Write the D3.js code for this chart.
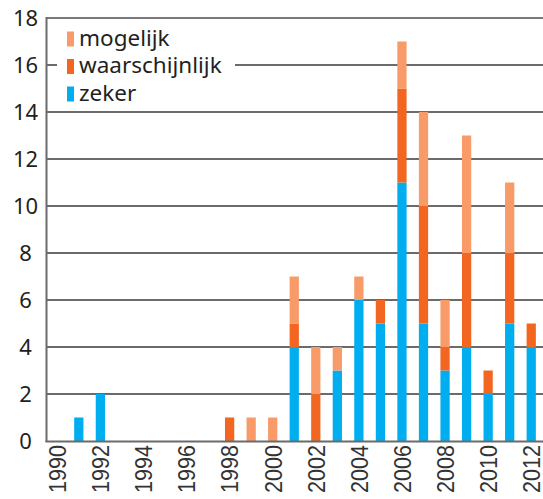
<!DOCTYPE html>
<html>
<head>
<meta charset="utf-8">
<script src="https://cdn.jsdelivr.net/npm/d3@7"></script>
<style>
  body { margin: 0; background: #fff; }
  svg text { font-family: "Noto Sans", "Open Sans", sans-serif; fill: #231f20; }
</style>
</head>
<body>
<svg id="chart" width="543" height="499"></svg>
<script>
// jaren en aantallen per categorie
var years = d3.range(1990, 2013);
var yearLabels = ["1990","1992","1994","1996","1998","2000","2002","2004","2006","2008","2010","2012"];
var zeker          = [0,1,2,0,0,0,0,0,0,0,0,4,0,3,6,5,11,5,3,4,2,5,4];
var waarschijnlijk = [0,0,0,0,0,0,0,0,1,0,0,1,2,0,0,1,4,5,1,4,1,3,1];
var mogelijk       = [0,0,0,0,0,0,0,0,0,1,1,2,2,1,1,0,2,4,2,5,0,3,0];
var yTicks = [0,2,4,6,8,10,12,14,16,18];
var series = ["zeker","waarschijnlijk","mogelijk"];
var colors = {zeker:"#00aeef", waarschijnlijk:"#f26622", mogelijk:"#f89b69"};

var svg = d3.select("#chart");

var x = d3.scaleBand()
	.domain(years)
	.range([46.5, 542])
	.paddingInner(0.57)
	.paddingOuter(0.285);
var y = d3.scaleLinear().domain([0, 18]).range([441, 18]);

var rows = years.map(function(yr, i){
	return {year: yr, zeker: zeker[i], waarschijnlijk: waarschijnlijk[i], mogelijk: mogelijk[i]};
});
var stacked = d3.stack().keys(series)(rows);

// rasterlijnen
svg.append("g").selectAll("line")
	.data(yTicks.filter(function(t){ return t > 0; }))
	.enter().append("line")
	.attr("x1", 46).attr("x2", 543)
	.attr("y1", function(d){ return y(d); })
	.attr("y2", function(d){ return y(d); })
	.style("stroke", function(d){ return d == 18 ? "#7a7a7a" : "#3a3a3a"; })
	.style("stroke-width", function(d){ return d == 18 ? 2 : 1.5; });

// staven
svg.append("g").selectAll("g")
	.data(stacked)
	.enter().append("g")
	.style("fill", function(d){ return colors[d.key]; })
	.selectAll("rect")
	.data(function(d){ return d; })
	.enter().append("rect")
	.attr("x", function(d){ return x(d.data.year); })
	.attr("width", x.bandwidth())
	.attr("y", function(d){ return y(d[1]); })
	.attr("height", function(d){ return y(d[0]) - y(d[1]); });

// assen
svg.append("line").attr("x1", 46.5).attr("x2", 46.5).attr("y1", 17).attr("y2", 442)
	.style("stroke", "#6b6b6b").style("stroke-width", 2);
svg.append("line").attr("x1", 45.5).attr("x2", 543).attr("y1", 441.5).attr("y2", 441.5)
	.style("stroke", "#6b6b6b").style("stroke-width", 2);

// y labels
svg.append("g").selectAll("text")
	.data(yTicks)
	.enter().append("text")
	.attr("x", 25.5)
	.attr("y", function(d){ return y(d); })
	.attr("dy", "0.36em")
	.attr("text-anchor", "middle")
	.style("font-size", "22px")
	.text(function(d){ return d; });

// x labels (smal lettertype: horizontaal samengedrukt)
svg.append("g").selectAll("text")
	.data(yearLabels)
	.enter().append("text")
	.attr("transform", function(d){
		return "translate(" + (x(+d) + x.bandwidth() / 2) + ",445) rotate(-90) scale(0.88,1)";
	})
	.attr("dy", "0.36em")
	.attr("text-anchor", "end")
	.style("font-family", "'Liberation Sans', Arial, sans-serif")
	.style("font-size", "24.5px")
	.style("fill", "#333")
	.text(function(d){ return d; });

// legenda
var legend = svg.append("g");
legend.append("rect")
	.attr("x", 57).attr("y", 22).attr("width", 178).attr("height", 86)
	.style("fill", "#fff");
var legendItems = ["mogelijk","waarschijnlijk","zeker"];
var item = legend.selectAll("g.item")
	.data(legendItems)
	.enter().append("g")
	.attr("class", "item")
	.attr("transform", function(d, i){ return "translate(0," + (39 + i * 27.5) + ")"; });
item.append("rect")
	.attr("x", 67).attr("y", -7.5).attr("width", 7).attr("height", 15)
	.style("fill", function(d){ return colors[d]; });
item.append("text")
	.attr("x", 79).attr("y", 0)
	.attr("dy", "0.3em")
	.style("font-size", "22.5px")
	.text(function(d){ return d; });
</script>
</body>
</html>
